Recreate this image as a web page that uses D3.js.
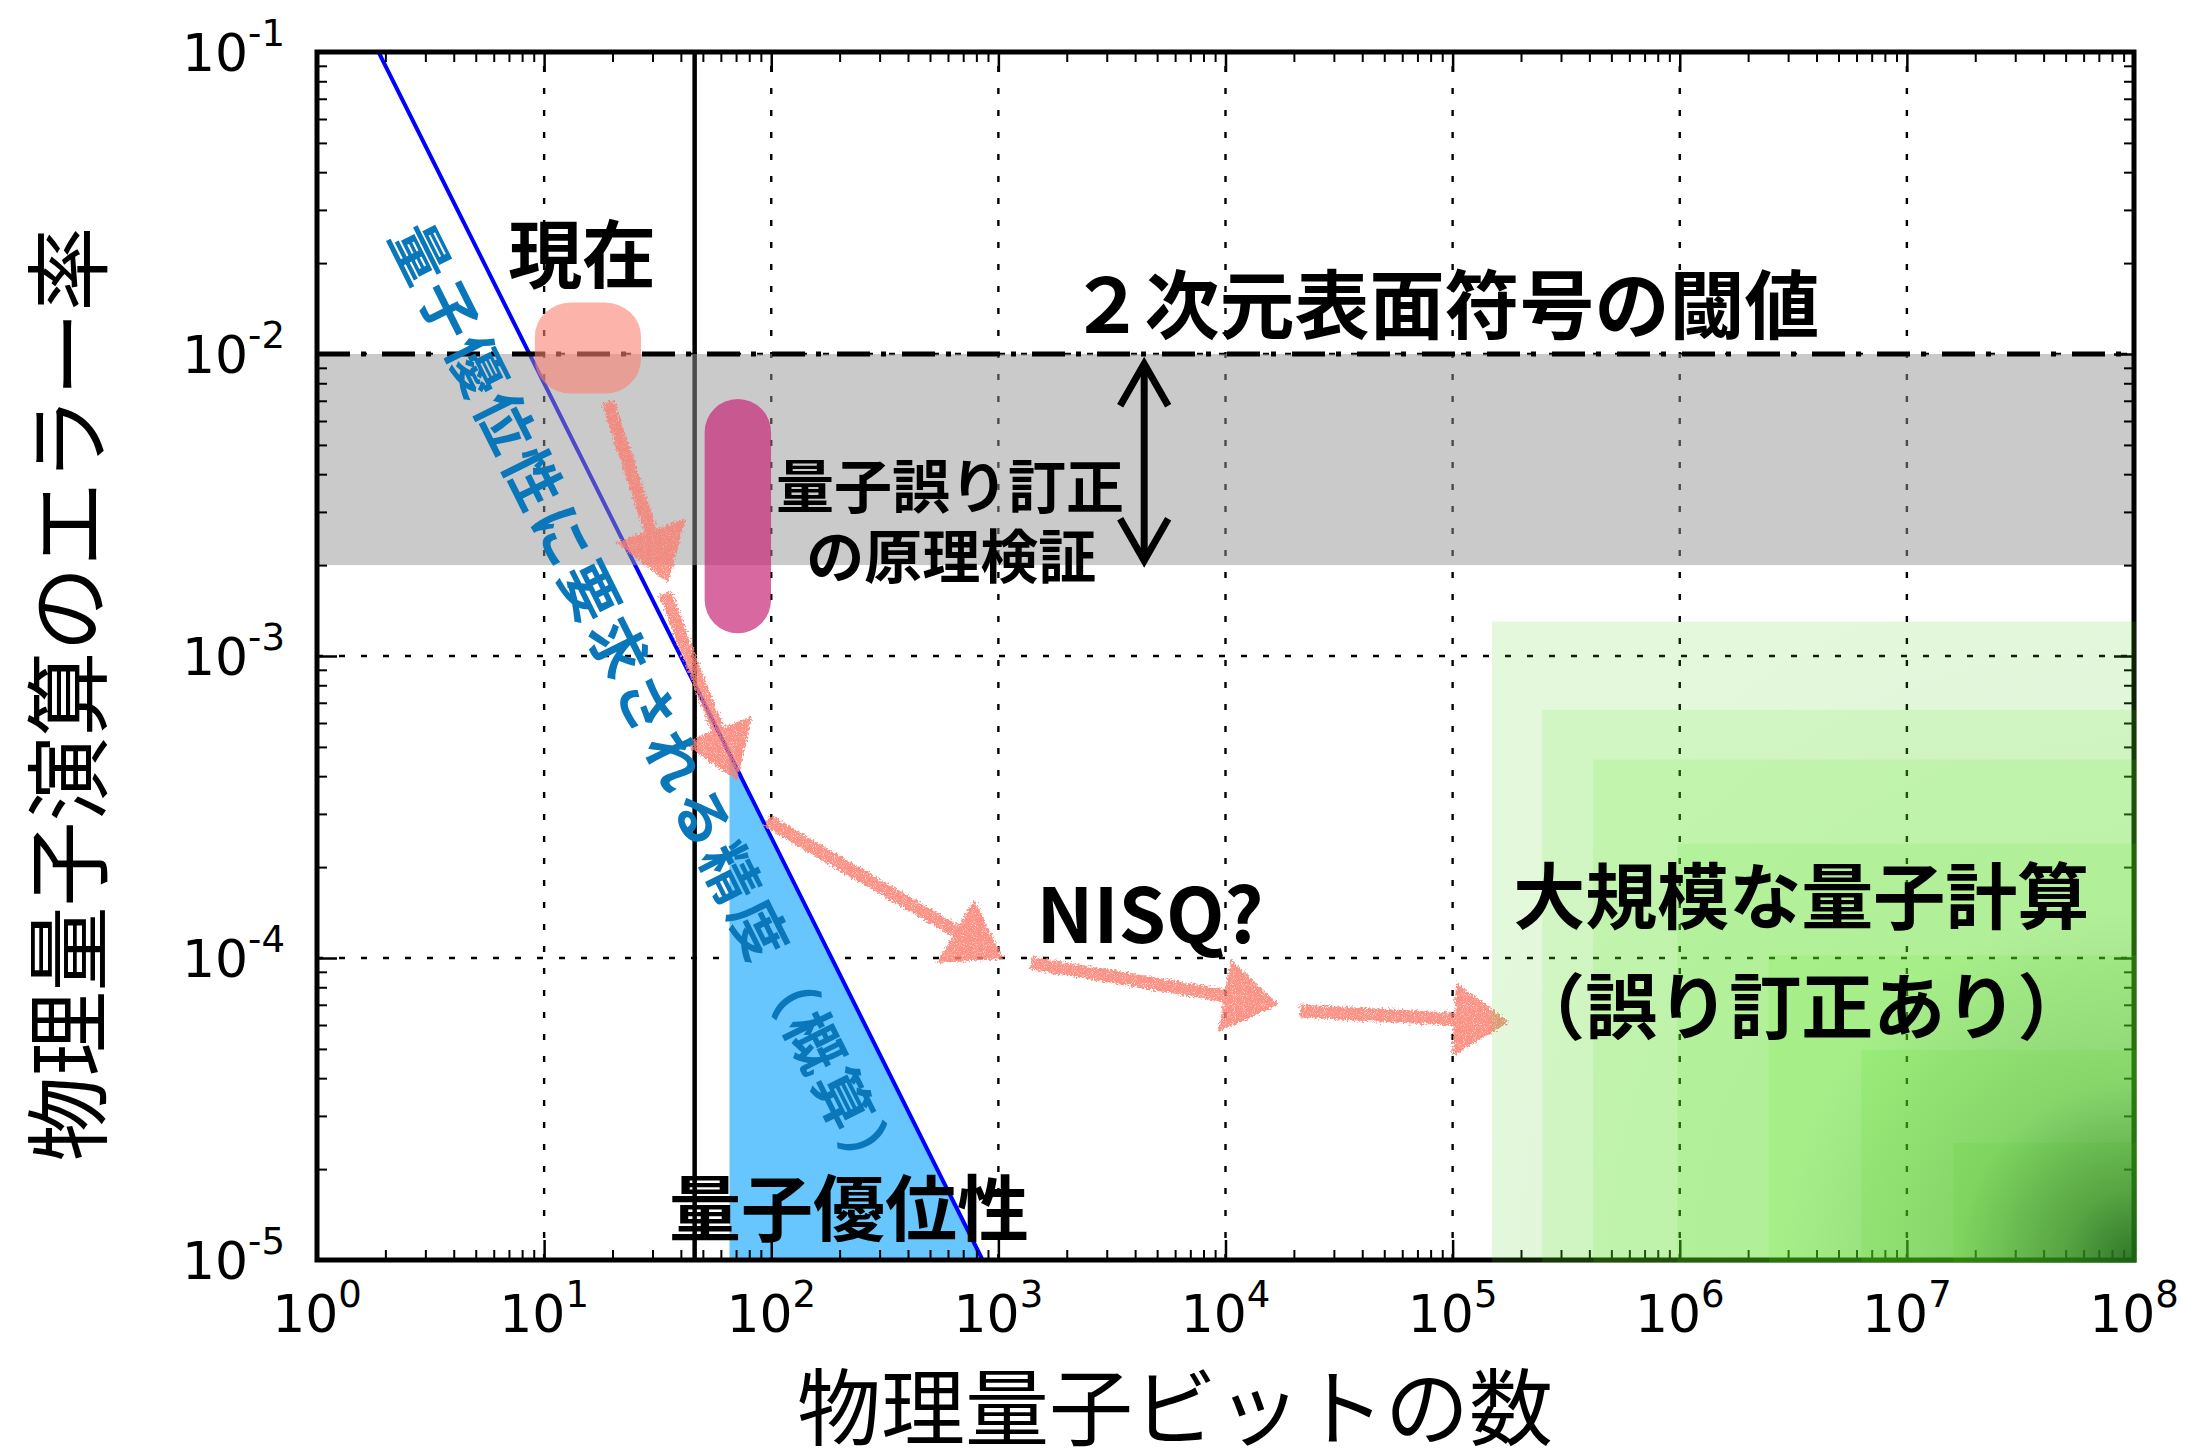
<!DOCTYPE html>
<html>
<head>
<meta charset="utf-8">
<script src="https://cdn.jsdelivr.net/npm/d3@7"></script>
<style>
  html, body { margin: 0; padding: 0; background: #fff; }
  svg { display: block; }
</style>
</head>
<body>
<script>
// ---------------- data ----------------
// axis decades (exponents of 10)
const xDecades = [0, 1, 2, 3, 4, 5, 6, 7, 8];
const yDecades = [-1, -2, -3, -4, -5];
const xDomain = [1, 1e8];
const yDomain = [1e-5, 1e-1];

// precision required for quantum advantage (rough estimate)
const advLineN   = [1.866, 852];
const advLineErr = [1e-1, 1e-5];
const advFillStartN = 65.5;

// present-day device size
const nowQubits = 46;

// 2D surface code threshold and the band below it
const thresholdErr = 1e-2;
const bandErr = [2e-3, 1e-2];

// present status and QEC proof-of-principle experiments
const nowBoxN   = [9.1, 26.7];
const nowBoxErr = [0.0074, 0.0148];
const qecBarN   = [50.9, 99.8];
const qecBarErr = [1.19e-3, 7.1e-3];

// double arrow spanning the threshold band
const bandArrowN   = 4385;
const bandArrowErr = [9.5e-3, 2.02e-3];

// roadmap arrows
const roadFromN   = [19.1, 34.1, 95.8, 1393, 21300];
const roadFromErr = [6.92e-3, 1.61e-3, 2.85e-4, 9.64e-5, 6.68e-5];
const roadToN     = [35.1, 70.7, 1050, 17100, 177000];
const roadToErr   = [1.75e-3, 3.86e-4, 9.93e-5, 7.0e-5, 6.13e-5];

// large-scale fault-tolerant region (corners of nested areas)
const ftqcN   = [1.49e5, 2.48e5, 4.16e5, 9.75e5, 2.47e6, 6.3e6, 1.6e7];
const ftqcErr = [1.30e-3, 6.64e-4, 4.54e-4, 2.39e-4, 1.02e-4, 4.96e-5, 2.44e-5];

// annotations
const noteText = ["現在", "２次元表面符号の閾値", "量子誤り訂正", "の原理検証", "NISQ?",
                  "大規模な量子計算", "（誤り訂正あり）", "量子優位性"];
const noteN    = [14.7, 9.2e4, 612, 620, 4656, 3.43e6, 3.43e6, 220];
const noteErr  = [0.0221, 0.01507, 3.73e-3, 2.2e-3, 1.44e-4, 1.66e-4, 7.15e-5, 1.54e-5];
const noteSize = [74, 75, 58, 58, 76, 72, 72, 72];

const advText = "量子優位性に要求される精度（概算）";
const advTextN = 29.3, advTextErr = 6.9e-4;

const xTitle = "物理量子ビットの数";
const yTitle = "物理量子演算のエラー率";

// ---------------- layout ----------------
const W = 2200, H = 1455;
const L = 317, R = 2134, T = 52, B = 1260;
const JP = "'Noto Sans CJK JP', 'Noto Sans CJK SC', sans-serif";
const NUM = "'DejaVu Sans', sans-serif";

const x = d3.scaleLog().domain(xDomain).range([L, R]);
const y = d3.scaleLog().domain(yDomain).range([B, T]);

const svg = d3.select("body").append("svg")
  .attr("width", W).attr("height", H)
  .attr("viewBox", `0 0 ${W} ${H}`);
svg.append("rect").attr("width", W).attr("height", H).attr("fill", "#fff");

const defs = svg.append("defs");
defs.append("clipPath").attr("id", "plotClip")
  .append("rect").attr("x", L).attr("y", T).attr("width", R - L).attr("height", B - T);

// chalky texture for the roadmap arrows
const chalk = defs.append("filter").attr("id", "chalk")
  .attr("filterUnits", "userSpaceOnUse")
  .attr("x", 0).attr("y", 0).attr("width", W).attr("height", H);
chalk.append("feTurbulence").attr("type", "fractalNoise").attr("baseFrequency", 0.45)
  .attr("numOctaves", 2).attr("seed", 4).attr("result", "warp");
chalk.append("feDisplacementMap").attr("in", "SourceGraphic").attr("in2", "warp")
  .attr("scale", 8).attr("xChannelSelector", "R").attr("yChannelSelector", "G").attr("result", "rough");
chalk.append("feTurbulence").attr("type", "fractalNoise").attr("baseFrequency", 1.1)
  .attr("numOctaves", 1).attr("seed", 9).attr("result", "grain");
chalk.append("feColorMatrix").attr("in", "grain").attr("type", "matrix")
  .attr("values", "0 0 0 0 0  0 0 0 0 0  0 0 0 0 0  -3.2 0 0 0 2.75").attr("result", "mask");
chalk.append("feComposite").attr("in", "rough").attr("in2", "mask").attr("operator", "in");

// darkening toward the far corner of the fault-tolerant region
const shade = defs.append("radialGradient").attr("id", "ftShade")
  .attr("gradientUnits", "userSpaceOnUse")
  .attr("cx", x(xDomain[1])).attr("cy", y(yDomain[0])).attr("r", 700);
[[0, 0.78], [0.1, 0.5], [0.25, 0.2], [0.5, 0.05], [1, 0.03]].forEach(([o, a]) =>
  shade.append("stop").attr("offset", o).attr("stop-color", "rgb(20,85,20)").attr("stop-opacity", a));

const plot = svg.append("g").attr("clip-path", "url(#plotClip)");

// ---------------- grid ----------------
const gridX = xDecades.slice(1, -1).map(e => Math.pow(10, e));
const gridY = yDecades.slice(1, -1).map(e => Math.pow(10, e));
plot.append("g").selectAll("line").data(gridX).join("line")
  .attr("x1", d => x(d)).attr("x2", d => x(d)).attr("y1", B).attr("y2", T)
  .attr("stroke", "#000").attr("stroke-width", 2.4).attr("stroke-dasharray", "6,16");
plot.append("g").selectAll("line").data(gridY).join("line")
  .attr("x1", L).attr("x2", R).attr("y1", d => y(d)).attr("y2", d => y(d))
  .attr("stroke", "#000").attr("stroke-width", 2.4).attr("stroke-dasharray", "6,16");

// ---------------- quantum advantage region ----------------
const logInterp = (n) => {
  const t = (Math.log10(n) - Math.log10(advLineN[0])) /
            (Math.log10(advLineN[1]) - Math.log10(advLineN[0]));
  return Math.pow(10, Math.log10(advLineErr[0]) + t * (Math.log10(advLineErr[1]) - Math.log10(advLineErr[0])));
};
const fillPts = [[advFillStartN, logInterp(advFillStartN)], [advFillStartN, yDomain[0]], [advLineN[1], advLineErr[1]]];
plot.append("path")
  .attr("d", d3.line().x(d => x(d[0])).y(d => y(d[1]))(fillPts) + "Z")
  .attr("fill", "#67c6fd");
plot.append("path")
  .attr("d", d3.line().x(d => x(d[0])).y(d => y(d[1]))(advLineN.map((n, i) => [n, advLineErr[i]])))
  .attr("stroke", "#0000ff").attr("stroke-width", 4).attr("fill", "none");

// present-day device size
plot.append("line")
  .attr("x1", x(nowQubits)).attr("x2", x(nowQubits)).attr("y1", T).attr("y2", B)
  .attr("stroke", "#000").attr("stroke-width", 4.5);

// threshold band
plot.append("rect")
  .attr("x", L).attr("width", R - L)
  .attr("y", y(bandErr[1])).attr("height", y(bandErr[0]) - y(bandErr[1]))
  .attr("fill", "rgb(150,150,150)").attr("fill-opacity", 0.5);

// threshold line (dash-dot)
plot.append("line")
  .attr("x1", L).attr("x2", R).attr("y1", y(thresholdErr)).attr("y2", y(thresholdErr))
  .attr("stroke", "#000").attr("stroke-width", 5).attr("stroke-dasharray", "33,11,5,16");

// present status box
plot.append("rect")
  .attr("x", x(nowBoxN[0])).attr("width", x(nowBoxN[1]) - x(nowBoxN[0]))
  .attr("y", y(nowBoxErr[1])).attr("height", y(nowBoxErr[0]) - y(nowBoxErr[1]))
  .attr("rx", 36).attr("ry", 34)
  .attr("fill", "#fa8072").attr("fill-opacity", 0.6);

// QEC proof-of-principle bar
const barW = x(qecBarN[1]) - x(qecBarN[0]);
plot.append("rect")
  .attr("x", x(qecBarN[0])).attr("width", barW)
  .attr("y", y(qecBarErr[1])).attr("height", y(qecBarErr[0]) - y(qecBarErr[1]))
  .attr("rx", barW / 2).attr("ry", barW / 2)
  .attr("fill", "rgb(200,40,120)").attr("fill-opacity", 0.7);

// roadmap arrows
const arrows = plot.append("g").attr("filter", "url(#chalk)").attr("opacity", 0.85);
roadFromN.forEach((n0, i) => {
  const p0 = [x(n0), y(roadFromErr[i])];
  const p1 = [x(roadToN[i]), y(roadToErr[i])];
  const dx = p1[0] - p0[0], dy = p1[1] - p0[1];
  const len = Math.hypot(dx, dy);
  const u = [dx / len, dy / len], pr = [-u[1], u[0]];
  const headL = 55, headW = 37;
  const base = [p1[0] - u[0] * headL, p1[1] - u[1] * headL];
  arrows.append("line")
    .attr("x1", p0[0]).attr("y1", p0[1])
    .attr("x2", base[0] + u[0] * 6).attr("y2", base[1] + u[1] * 6)
    .attr("stroke", "#fa8072").attr("stroke-width", 13);
  arrows.append("path")
    .attr("d", d3.line()([p1, [base[0] + pr[0] * headW, base[1] + pr[1] * headW],
                              [base[0] - pr[0] * headW, base[1] - pr[1] * headW]]) + "Z")
    .attr("fill", "#fa8072");
});

// double arrow across the threshold band
{
  const xa = x(bandArrowN), ya = y(bandArrowErr[0]), yb = y(bandArrowErr[1]);
  const g = plot.append("g").attr("stroke", "#000").attr("stroke-width", 7)
    .attr("fill", "none").attr("stroke-linejoin", "miter");
  g.append("line").attr("x1", xa).attr("x2", xa).attr("y1", ya + 3).attr("y2", yb - 3);
  g.append("path").attr("d", d3.line()([[xa - 24, ya + 45], [xa, ya + 3], [xa + 24, ya + 45]]));
  g.append("path").attr("d", d3.line()([[xa - 24, yb - 45], [xa, yb - 3], [xa + 24, yb - 45]]));
}

// ---------------- axes ----------------
const xMajor = xDecades.map(e => Math.pow(10, e));
const yMajor = yDecades.map(e => Math.pow(10, e));
const xMinor = [], yMinor = [];
xDecades.slice(0, -1).forEach(e => { for (let k = 2; k <= 9; k++) xMinor.push(k * Math.pow(10, e)); });
yDecades.slice(1).forEach(e => { for (let k = 2; k <= 9; k++) yMinor.push(k * Math.pow(10, e)); });

function tickAxis(axisFn, scale, values, size, width, transform) {
  const g = svg.append("g").attr("transform", transform)
    .call(axisFn(scale).tickValues(values).tickSize(-size).tickFormat(""));
  g.select(".domain").remove();
  g.selectAll(".tick line").attr("stroke", "#000").attr("stroke-width", width);
}
tickAxis(d3.axisBottom, x, xMinor, 10, 2, `translate(0,${B})`);
tickAxis(d3.axisBottom, x, xMajor, 20, 2.5, `translate(0,${B})`);
tickAxis(d3.axisTop, x, xMinor, 10, 2, `translate(0,${T})`);
tickAxis(d3.axisTop, x, xMajor, 20, 2.5, `translate(0,${T})`);
tickAxis(d3.axisLeft, y, yMinor, 10, 2, `translate(${L},0)`);
tickAxis(d3.axisLeft, y, yMajor, 20, 2.5, `translate(${L},0)`);
tickAxis(d3.axisRight, y, yMinor, 10, 2, `translate(${R},0)`);
tickAxis(d3.axisRight, y, yMajor, 20, 2.5, `translate(${R},0)`);

svg.append("rect").attr("x", L).attr("y", T).attr("width", R - L).attr("height", B - T)
  .attr("fill", "none").attr("stroke", "#000").attr("stroke-width", 5);

// tick labels with superscript exponents
svg.append("g").selectAll("text").data(xDecades).join("text")
  .attr("x", d => x(Math.pow(10, d))).attr("y", 1332)
  .attr("text-anchor", "middle").attr("font-family", NUM).attr("font-size", 52).attr("fill", "#000")
  .each(function (d) {
    const t = d3.select(this);
    t.append("tspan").text("10");
    t.append("tspan").attr("dy", -25).attr("font-size", 37).text(d);
  });
svg.append("g").selectAll("text").data(yDecades).join("text")
  .attr("x", 285).attr("y", d => y(Math.pow(10, d)) + 19)
  .attr("text-anchor", "end").attr("font-family", NUM).attr("font-size", 52).attr("fill", "#000")
  .each(function (d) {
    const t = d3.select(this);
    t.append("tspan").text("10");
    t.append("tspan").attr("dy", -25).attr("font-size", 37).text(d);
  });

// ---------------- fault-tolerant region ----------------
const ft = svg.append("g");
ftqcN.forEach((n, i) => {
  ft.append("rect")
    .attr("x", x(n)).attr("y", y(ftqcErr[i]))
    .attr("width", R + 2.5 - x(n)).attr("height", B + 2.5 - y(ftqcErr[i]))
    .attr("fill", "rgb(90,240,30)").attr("fill-opacity", 0.13);
});
ft.append("rect")
  .attr("x", x(ftqcN[0])).attr("y", y(ftqcErr[0]))
  .attr("width", R + 2.5 - x(ftqcN[0])).attr("height", B + 2.5 - y(ftqcErr[0]))
  .attr("fill", "url(#ftShade)");

// ---------------- text ----------------
svg.append("g").selectAll("text").data(noteText).join("text")
  .attr("x", (d, i) => x(noteN[i])).attr("y", (d, i) => y(noteErr[i]))
  .attr("text-anchor", "middle").attr("dominant-baseline", "central")
  .attr("font-family", JP).attr("font-weight", 700)
  .attr("font-size", (d, i) => noteSize[i]).attr("fill", "#000")
  .text(d => d);

// rotated label along the advantage line
{
  const ang = Math.atan2(y(advLineErr[1]) - y(advLineErr[0]), x(advLineN[1]) - x(advLineN[0])) * 180 / Math.PI;
  svg.append("text")
    .attr("transform", `translate(${x(advTextN)},${y(advTextErr)}) rotate(${ang})`)
    .attr("text-anchor", "middle").attr("dominant-baseline", "central")
    .attr("font-family", JP).attr("font-weight", 700).attr("font-size", 58)
    .attr("letter-spacing", 5)
    .attr("fill", "#0a77bb").text(advText);
}

// axis titles
svg.append("text").attr("x", 1175).attr("y", 1402)
  .attr("text-anchor", "middle").attr("dominant-baseline", "central")
  .attr("font-family", JP).attr("font-weight", 400).attr("font-size", 84).attr("fill", "#000")
  .text(xTitle);
svg.append("text").attr("transform", "translate(62,694) rotate(-90)")
  .attr("text-anchor", "middle").attr("dominant-baseline", "central")
  .attr("font-family", JP).attr("font-weight", 400).attr("font-size", 85).attr("fill", "#000")
  .text(yTitle);
</script>
</body>
</html>
